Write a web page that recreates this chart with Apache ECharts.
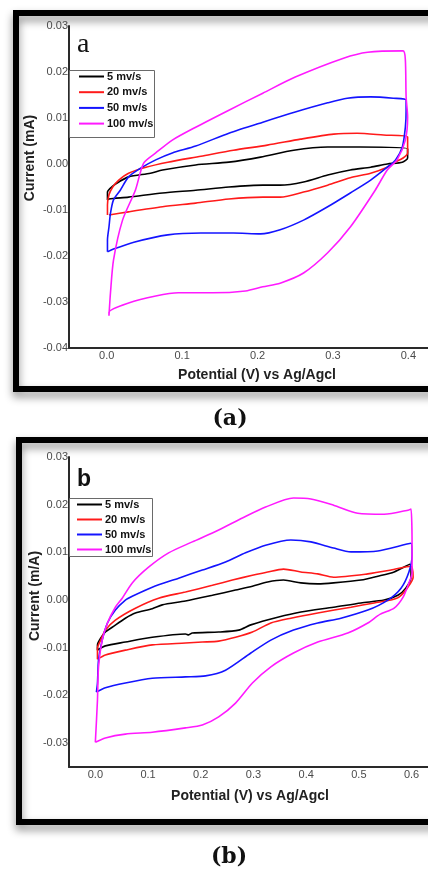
<!DOCTYPE html>
<html>
<head>
<meta charset="utf-8">
<script src="https://cdn.jsdelivr.net/npm/echarts@6/dist/echarts.min.js"></script>
<style>
html,body{margin:0;padding:0;background:#fff;}
#chart{width:428px;height:871px;}
</style>
</head>
<body>
<div id="chart"></div>
<script>
// ---- data (x: potential V, y: current) ----
const seriesNames = ['5 mv/s', '20 mv/s', '50 mv/s', '100 mv/s'];

// Panel (a)
const a5 = [[0.001,-0.0078],[0.001,-0.0061],[0.008,-0.0048],[0.016,-0.0039],[0.029,-0.0028],[0.058,-0.0020],[0.074,-0.0013],[0.118,-0.0002],[0.162,0.0004],[0.204,0.0015],[0.248,0.0030],[0.293,0.0037],[0.336,0.0037],[0.399,0.0033],[0.399,0.0013],[0.392,0.0004],[0.372,0.0000],[0.350,-0.0007],[0.323,-0.0013],[0.293,-0.0024],[0.261,-0.0039],[0.230,-0.0046],[0.207,-0.0046],[0.162,-0.0050],[0.118,-0.0057],[0.074,-0.0063],[0.029,-0.0072],[0.003,-0.0076],[0.001,-0.0078]];
const a20 = [[0.001,-0.0111],[0.001,-0.0089],[0.003,-0.0067],[0.008,-0.0050],[0.016,-0.0035],[0.029,-0.0020],[0.052,-0.0007],[0.081,0.0004],[0.125,0.0017],[0.168,0.0030],[0.213,0.0041],[0.257,0.0054],[0.301,0.0065],[0.332,0.0067],[0.367,0.0063],[0.399,0.0059],[0.399,0.0024],[0.393,0.0013],[0.380,0.0002],[0.372,-0.0007],[0.350,-0.0020],[0.323,-0.0030],[0.293,-0.0046],[0.261,-0.0061],[0.230,-0.0072],[0.207,-0.0072],[0.162,-0.0076],[0.118,-0.0085],[0.074,-0.0093],[0.029,-0.0104],[0.003,-0.0111]];
const a50 = [[0.001,-0.0191],[0.001,-0.0165],[0.003,-0.0137],[0.005,-0.0107],[0.009,-0.0078],[0.018,-0.0057],[0.029,-0.0028],[0.045,-0.0009],[0.065,0.0009],[0.087,0.0024],[0.118,0.0039],[0.162,0.0067],[0.207,0.0091],[0.250,0.0113],[0.293,0.0133],[0.319,0.0143],[0.350,0.0146],[0.380,0.0143],[0.397,0.0139],[0.397,0.0117],[0.396,0.0080],[0.392,0.0037],[0.383,0.0009],[0.372,-0.0007],[0.350,-0.0035],[0.323,-0.0063],[0.293,-0.0093],[0.261,-0.0122],[0.230,-0.0143],[0.204,-0.0152],[0.168,-0.0150],[0.125,-0.0150],[0.081,-0.0154],[0.036,-0.0170],[0.009,-0.0185],[0.001,-0.0191]];
const a100 = [[0.003,-0.0330],[0.005,-0.0280],[0.009,-0.0209],[0.021,-0.0122],[0.038,-0.0057],[0.049,0.0002],[0.065,0.0024],[0.087,0.0052],[0.118,0.0080],[0.162,0.0117],[0.207,0.0154],[0.250,0.0189],[0.314,0.0230],[0.346,0.0243],[0.393,0.0246],[0.396,0.0226],[0.397,0.0146],[0.399,0.0102],[0.396,0.0052],[0.385,0.0009],[0.372,-0.0013],[0.356,-0.0057],[0.323,-0.0137],[0.293,-0.0193],[0.261,-0.0237],[0.230,-0.0259],[0.207,-0.0267],[0.184,-0.0276],[0.140,-0.0280],[0.095,-0.0280],[0.065,-0.0287],[0.029,-0.0302],[0.003,-0.0322],[0.003,-0.0330]];

// Panel (b)
const b5 = [[0.004,-0.0105],[0.004,-0.0094],[0.010,-0.0080],[0.019,-0.0067],[0.032,-0.0057],[0.057,-0.0038],[0.076,-0.0027],[0.108,-0.0018],[0.127,-0.0010],[0.171,-0.0002],[0.222,0.0010],[0.266,0.0021],[0.298,0.0029],[0.327,0.0038],[0.357,0.0042],[0.390,0.0036],[0.422,0.0034],[0.452,0.0036],[0.504,0.0042],[0.536,0.0050],[0.567,0.0059],[0.597,0.0075],[0.599,0.0048],[0.589,0.0025],[0.574,0.0010],[0.548,0.0000],[0.504,-0.0006],[0.452,-0.0015],[0.390,-0.0025],[0.346,-0.0036],[0.295,-0.0052],[0.272,-0.0063],[0.234,-0.0067],[0.184,-0.0069],[0.177,-0.0073],[0.171,-0.0071],[0.108,-0.0078],[0.057,-0.0088],[0.019,-0.0096],[0.004,-0.0105]];
const b20 = [[0.004,-0.0124],[0.004,-0.0101],[0.010,-0.0084],[0.019,-0.0063],[0.038,-0.0042],[0.076,-0.0017],[0.120,0.0004],[0.171,0.0017],[0.222,0.0031],[0.260,0.0042],[0.298,0.0052],[0.327,0.0059],[0.357,0.0065],[0.390,0.0059],[0.422,0.0055],[0.452,0.0048],[0.517,0.0055],[0.561,0.0063],[0.599,0.0071],[0.603,0.0048],[0.593,0.0027],[0.576,0.0006],[0.561,0.0000],[0.529,-0.0006],[0.485,-0.0015],[0.422,-0.0027],[0.371,-0.0038],[0.333,-0.0048],[0.298,-0.0067],[0.266,-0.0078],[0.234,-0.0086],[0.203,-0.0088],[0.171,-0.0090],[0.108,-0.0094],[0.057,-0.0105],[0.019,-0.0115],[0.004,-0.0124]];
const b50 = [[0.002,-0.0193],[0.004,-0.0174],[0.006,-0.0126],[0.013,-0.0084],[0.023,-0.0048],[0.038,-0.0021],[0.057,0.0000],[0.070,0.0008],[0.108,0.0027],[0.158,0.0046],[0.203,0.0063],[0.247,0.0080],[0.285,0.0099],[0.323,0.0115],[0.371,0.0126],[0.409,0.0122],[0.452,0.0109],[0.485,0.0101],[0.536,0.0103],[0.599,0.0119],[0.601,0.0094],[0.595,0.0059],[0.580,0.0025],[0.555,0.0000],[0.517,-0.0021],[0.466,-0.0038],[0.422,-0.0048],[0.376,-0.0063],[0.333,-0.0084],[0.295,-0.0111],[0.247,-0.0147],[0.209,-0.0159],[0.171,-0.0161],[0.108,-0.0164],[0.057,-0.0174],[0.019,-0.0184],[0.002,-0.0193]];
const b100 = [[0.000,-0.0298],[0.004,-0.0210],[0.006,-0.0140],[0.013,-0.0084],[0.023,-0.0048],[0.038,-0.0015],[0.051,0.0004],[0.070,0.0036],[0.101,0.0069],[0.139,0.0099],[0.184,0.0122],[0.234,0.0147],[0.279,0.0172],[0.323,0.0195],[0.376,0.0214],[0.409,0.0212],[0.452,0.0199],[0.498,0.0182],[0.548,0.0180],[0.595,0.0189],[0.599,0.0191],[0.601,0.0111],[0.601,0.0057],[0.595,0.0036],[0.584,0.0006],[0.567,-0.0017],[0.540,-0.0030],[0.517,-0.0048],[0.479,-0.0069],[0.422,-0.0088],[0.376,-0.0111],[0.333,-0.0140],[0.298,-0.0174],[0.266,-0.0216],[0.234,-0.0245],[0.203,-0.0262],[0.171,-0.0268],[0.108,-0.0277],[0.057,-0.0281],[0.019,-0.0289],[0.000,-0.0298]];

const dataA = [a5, a20, a50, a100];
const dataB = [b5, b20, b50, b100];

// axis ranges / tick labels
const xRangeA = [-0.05, 0.43];
const yRangeA = [-0.04, 0.03];
const xRangeB = [-0.05, 0.635];
const yRangeB = [-0.035, 0.03];
const xTickStep = 0.1;
const yTickStep = 0.01;

const yTitleA = 'Current (mA)';
const yTitleB = 'Current (m/A)';
const xTitle = 'Potential (V) vs Ag/Agcl';
const panelLetters = ['a', 'b'];
const panelCaptions = ['(a)', '(b)'];

// ---- chart ----
const colors = ['#000000', '#ff1a1a', '#1414ff', '#ff1aff'];

function onStep(v, step) {
  const r = v / step;
  return Math.abs(r - Math.round(r)) < 1e-6;
}
function xLabel(v) { return onStep(v, xTickStep) ? (Math.abs(v) < 1e-9 ? 0 : v).toFixed(1) : ''; }
function yLabel(v) { return onStep(v, yTickStep) ? (Math.abs(v) < 1e-9 ? 0 : v).toFixed(2) : ''; }

const axisLineStyle = { color: '#2a2a2a', width: 2 };
const labelFont = { fontFamily: 'Liberation Sans, Arial, sans-serif', fontSize: 11, color: '#4a4a4a' };

function makeX(gi, range) {
  return {
    type: 'value', gridIndex: gi, min: range[0], max: range[1], interval: 0.05,
    axisLine: { show: true, onZero: false, lineStyle: axisLineStyle },
    axisTick: { show: false }, splitLine: { show: false },
    axisLabel: Object.assign({ formatter: xLabel, margin: 2, showMinLabel: true, showMaxLabel: true, hideOverlap: false }, labelFont)
  };
}
function makeY(gi, range) {
  return {
    type: 'value', gridIndex: gi, min: range[0], max: range[1], interval: 0.005,
    axisLine: { show: true, onZero: false, lineStyle: axisLineStyle },
    axisTick: { show: false }, splitLine: { show: false },
    axisLabel: Object.assign({ formatter: yLabel, margin: 1, showMinLabel: true, showMaxLabel: true, hideOverlap: false }, labelFont)
  };
}

const series = [];
[dataA, dataB].forEach(function (set, gi) {
  set.forEach(function (d, i) {
    series.push({
      name: seriesNames[i], type: 'line', xAxisIndex: gi, yAxisIndex: gi,
      data: d, symbol: 'none', smooth: 0.25, clip: false,
      color: colors[i],
      lineStyle: { color: colors[i], width: 1.6 },
      z: 3 + i, animation: false
    });
  });
});

function legend(left, top, gap) {
  return {
    orient: 'vertical', left: left, top: top, padding: 0,
    itemWidth: 25, itemHeight: 12, itemGap: gap, itemStyle: { opacity: 0 },
    data: seriesNames, selectedMode: false,
    textStyle: { fontFamily: 'Liberation Sans, Arial, sans-serif', fontWeight: 'bold', fontSize: 11, color: '#111', padding: [0, 0, 0, -2] }
  };
}

const frameShadow = { shadowBlur: 8, shadowOffsetX: 0, shadowOffsetY: 5, shadowColor: 'rgba(0,0,0,0.45)' };
const titleFont = 'bold 14px "Liberation Sans", Arial, sans-serif';

const option = {
  animation: false,
  backgroundColor: '#ffffff',
  grid: [
    { left: 69, top: 26, width: 362, height: 322, containLabel: false, outerBoundsMode: 'none' },
    { left: 69, top: 457, width: 361, height: 310, containLabel: false, outerBoundsMode: 'none' }
  ],
  xAxis: [makeX(0, xRangeA), makeX(1, xRangeB)],
  yAxis: [makeY(0, yRangeA), makeY(1, yRangeB)],
  legend: [legend(78, 71, 4.7), legend(76, 499, 4)],
  series: series,
  graphic: [
    { type: 'rect', z: 0, shape: { x: 16, y: 13, width: 430, height: 376 }, style: Object.assign({ fill: 'none', stroke: '#000', lineWidth: 6 }, frameShadow) },
    { type: 'rect', z: 0, shape: { x: 19, y: 440, width: 430, height: 382 }, style: Object.assign({ fill: 'none', stroke: '#000', lineWidth: 6 }, frameShadow) },
    { type: 'rect', z: 1, shape: { x: 69.5, y: 70.5, width: 85, height: 67 }, style: { fill: 'none', stroke: '#6a6a6a', lineWidth: 1 } },
    { type: 'rect', z: 1, shape: { x: 69.5, y: 498.5, width: 83, height: 58 }, style: { fill: 'none', stroke: '#6a6a6a', lineWidth: 1 } },
    { type: 'text', z: 5, x: 77, y: 59, style: { text: panelLetters[0], font: 'normal 28px "Liberation Serif", "Times New Roman", serif', fill: '#111', textVerticalAlign: 'bottom' } },
    { type: 'text', z: 5, x: 77, y: 491, style: { text: panelLetters[1], font: 'bold 23px "Liberation Sans", Arial, sans-serif', fill: '#111', textVerticalAlign: 'bottom' } },
    { type: 'text', z: 5, x: 30, y: 158, rotation: Math.PI / 2, style: { text: yTitleA, font: titleFont, fill: '#222', textAlign: 'center', textVerticalAlign: 'middle' } },
    { type: 'text', z: 5, x: 35, y: 596, rotation: Math.PI / 2, style: { text: yTitleB, font: titleFont, fill: '#222', textAlign: 'center', textVerticalAlign: 'middle' } },
    { type: 'text', z: 5, x: 257, y: 375, style: { text: xTitle, font: titleFont, fill: '#222', textAlign: 'center', textVerticalAlign: 'middle' } },
    { type: 'text', z: 5, x: 250, y: 796, style: { text: xTitle, font: titleFont, fill: '#222', textAlign: 'center', textVerticalAlign: 'middle' } },
    { type: 'text', z: 5, x: 230, y: 419, style: { text: panelCaptions[0], font: 'bold 22px "DejaVu Serif", serif', fill: '#111', textAlign: 'center', textVerticalAlign: 'middle' } },
    { type: 'text', z: 5, x: 229, y: 857, style: { text: panelCaptions[1], font: 'bold 22px "DejaVu Serif", serif', fill: '#111', textAlign: 'center', textVerticalAlign: 'middle' } }
  ]
};

const chart = echarts.init(document.getElementById('chart'), null, { renderer: 'canvas', width: 428, height: 871 });
chart.setOption(option);
</script>
</body>
</html>
